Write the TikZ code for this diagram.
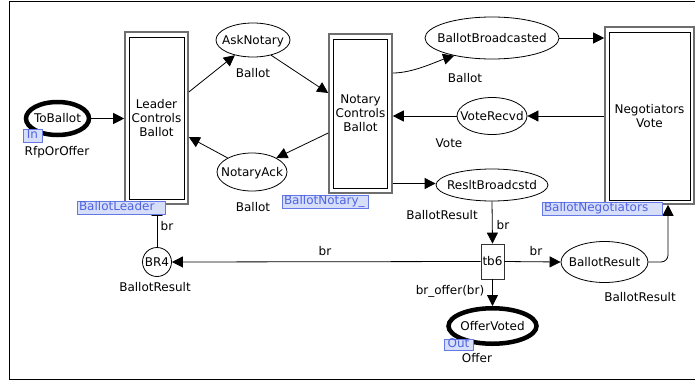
\documentclass[tikz,border=0pt]{standalone}
\usepackage{fontspec}
\setmainfont{DejaVu Sans}
\usetikzlibrary{arrows.meta,shapes.geometric}
\definecolor{tagfill}{RGB}{214,222,250}
\definecolor{tagline}{RGB}{100,120,230}
\definecolor{tagtext}{RGB}{80,100,225}
\definecolor{boxgray}{RGB}{110,110,110}
\newcommand\ptxt[1]{\makebox[0pt]{#1}}
\begin{document}
\begin{tikzpicture}[x=1pt,y=-1pt,
  every node/.style={font=\fontsize{12}{14}\selectfont, inner sep=0pt},
  place/.style={draw, ellipse, line width=0.8pt, fill=white, text height=8.8pt, text depth=0pt},
  port/.style={draw, ellipse, line width=4.5pt, fill=white, text height=8.8pt, text depth=0pt},
  outerbox/.style={draw=boxgray, line width=1.6pt, rectangle},
  innerbox/.style={draw, line width=0.9pt, rectangle, align=center},
  trans/.style={draw=black!80, line width=0.8pt, rectangle, text height=8.8pt, text depth=0pt},
  lbl/.style={text height=8.8pt, text depth=0pt},
  arc/.style={draw, line width=0.8pt, -{Triangle[length=11pt,width=11pt]}},
  tag/.style={draw=tagline, fill=tagfill, text=tagtext, line width=0.8pt, rectangle,
    minimum height=13pt, text height=8.8pt, text depth=2.4pt, inner xsep=2pt}
]
\clip (0,0) rectangle (695,380);
\draw[line width=1pt] (9,1) rectangle (720,379);

% places and transitions
\node[port, minimum width=63pt, minimum height=33pt] (toballot) at (57.5,118.5) {\ptxt{ToBallot}};
\node[outerbox, minimum width=63pt, minimum height=172pt] (leaderO) at (156.5,118) {};
\node[innerbox, minimum width=55pt, minimum height=162pt] (leader) at (156.5,118) {Leader\\Controls\\Ballot};
\node[place, minimum width=74pt, minimum height=34pt] (ask) at (253,40) {\ptxt{AskNotary}};
\node[place, minimum width=70pt, minimum height=38pt] (ack) at (252,172) {\ptxt{NotaryAck}};
\node[outerbox, minimum width=63pt, minimum height=159pt] (notaryO) at (360.5,113.5) {};
\node[innerbox, minimum width=54pt, minimum height=149pt] (notary) at (360.5,113.5) {Notary\\Controls\\Ballot};
\node[place, minimum width=134pt, minimum height=42pt] (bb) at (492,38) {\ptxt{BallotBroadcasted}};
\node[place, minimum width=70pt, minimum height=37pt] (vote) at (492,116) {\ptxt{VoteRecvd}};
\node[place, minimum width=112pt, minimum height=32pt] (reslt) at (492,185) {\ptxt{ResltBroadcstd}};
\node[outerbox, minimum width=89pt, minimum height=177pt] (negO) at (649.5,115.5) {};
\node[innerbox, minimum width=81pt, minimum height=168pt] (neg) at (649.5,116) {Negotiators\\Vote};
\node[trans, minimum width=23pt, minimum height=35pt] (tb6) at (492.5,261.5) {tb6};
\node[place, minimum width=87pt, minimum height=41pt] (bres) at (604.5,262) {\ptxt{BallotResult}};
\node[place, circle, minimum size=29pt] (br4) at (157,262) {\ptxt{BR4}};
\node[port, minimum width=88pt, minimum height=35.5pt] (offer) at (492.5,326) {\ptxt{OfferVoted}};

% arcs
\draw[arc] (toballot.east) -- (toballot.east -| leaderO.west);
\draw[arc] ([yshift=26pt]leaderO.east) -- (ask.220);
\draw[arc] (ask.320) -- ([yshift=20.5pt]notaryO.west);
\draw[arc] ([yshift=-19.5pt]notaryO.west) -- (ack.30);
\draw[arc] (ack.150) -- ([yshift=-19pt]leaderO.east);
\draw[arc] ([yshift=40.5pt]notaryO.east) .. controls +(20,0) and +(-18,6) .. (bb.205);
\draw[arc] (bb.east) -- (bb.east -| negO.west);
\draw[arc] (vote.east -| negO.west) -- (vote.east);
\draw[arc] (vote.west) -- (vote.west -| notaryO.east);
\draw[arc] ([yshift=1.5pt]reslt.west -| notaryO.east) -- ([yshift=1.5pt]reslt.west);
\draw[arc] (reslt.south) -- (tb6.north);
\draw[arc] (tb6.west) -- (br4.east);
\draw[arc] (tb6.east) -- (bres.west);
\draw[arc, rounded corners=7pt] (bres.east) -| ([xshift=18.5pt]negO.south);
\draw[arc] (tb6.south) -- (offer.north);
\draw[arc] (br4.north) -- (br4.north |- leaderO.south);

% inscriptions
\node[lbl] (l1) at (57,151) {RfpOrOffer};
\node[lbl] (l2) at (253,73) {Ballot};
\node[lbl] (l3) at (253,207) {Ballot};
\node[lbl] (l4) at (465,78) {Ballot};
\node[lbl] (l5) at (449,143) {Vote};
\node[lbl] (l6) at (442,215) {BallotResult};
\node[lbl] (l7) at (155,287) {BallotResult};
\node[lbl] (l8) at (640,297) {BallotResult};
\node[lbl] (l9) at (477,358) {Offer};
\node[lbl] (a1) at (167,226) {br};
\node[lbl] (a2) at (325,251) {br};
\node[lbl] (a3) at (503,225) {br};
\node[lbl] (a4) at (536,251) {br};
\node[lbl] (a5) at (450,290) {br\_offer(br)};

% tags
\node[tag, minimum width=19pt] (tIn) at (32.5,135.5) {In};
\node[tag, text width=84pt, align=left] (tLeader) at (121,207.5) {BallotLeader};
\node[tag, text width=82pt, align=left] (tNotary) at (325,201.5) {BallotNotary\_};
\node[tag, text width=116pt, align=left] (tNeg) at (602,208.5) {BallotNegotiators};
\node[tag, minimum width=29pt, minimum height=11pt] (tOut) at (458.5,344.5) {Out};
\end{tikzpicture}
\end{document}
